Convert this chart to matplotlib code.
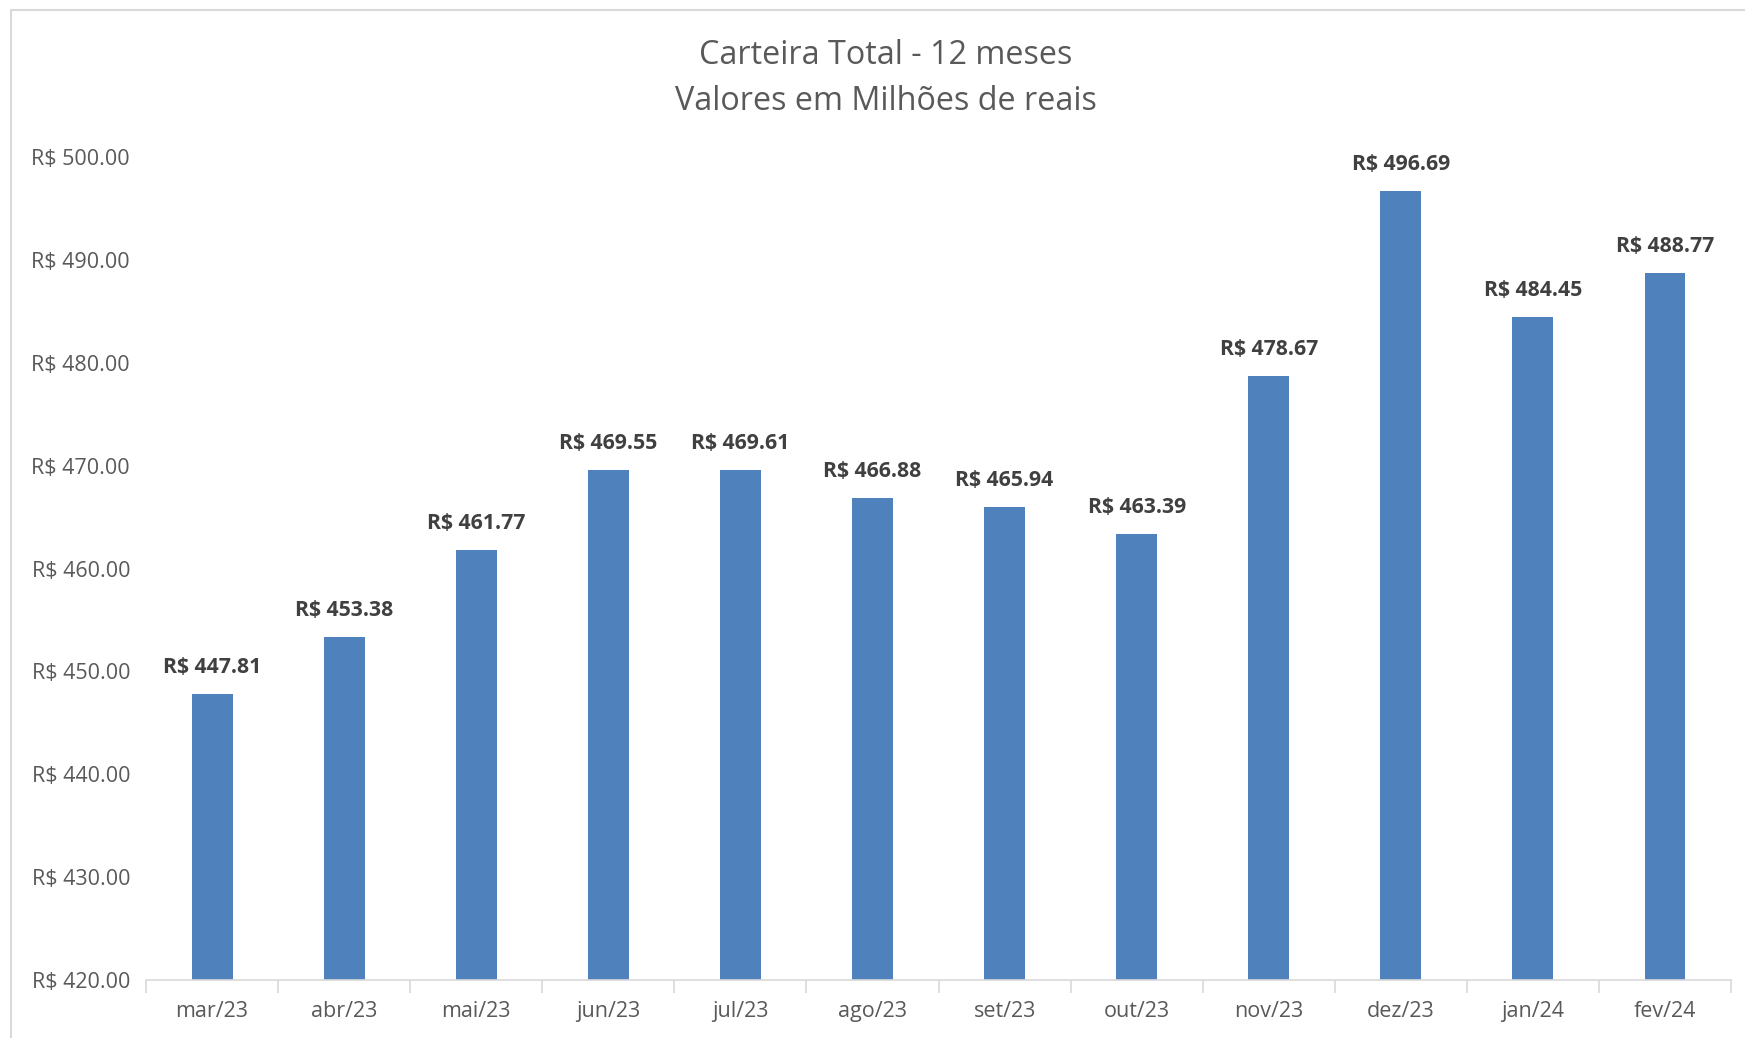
import numpy as np
import matplotlib.pyplot as plt
from matplotlib.patches import Rectangle

meses = ['mar/23', 'abr/23', 'mai/23', 'jun/23', 'jul/23', 'ago/23',
         'set/23', 'out/23', 'nov/23', 'dez/23', 'jan/24', 'fev/24']
valores = [447.81, 453.38, 461.77, 469.55, 469.61, 466.88,
           465.94, 463.39, 478.67, 496.69, 484.45, 488.77]
y_ticks = [420, 430, 440, 450, 460, 470, 480, 490, 500]

plt.rcParams['font.family'] = ['Open Sans', 'DejaVu Sans']

fig = plt.figure(figsize=(17.45, 10.38), dpi=100)
ax = fig.add_axes([0.0837, 0.0559, 0.9083, 0.7928])

x = np.arange(len(meses))
ax.bar(x, valores, width=0.31, color='#4F81BD', zorder=2)

for xi, v in zip(x, valores):
    ax.annotate('R$ %.2f' % v, (xi, v), xytext=(0, 16), textcoords='offset pixels',
                ha='center', va='bottom', fontsize=15.3, fontweight='bold', color='#404040')

ax.set_ylim(420, 500)
ax.set_xlim(-0.5, len(meses) - 0.5)
ax.set_yticks(y_ticks)
ax.set_yticklabels(['R$ %.2f' % t for t in y_ticks], fontsize=15.5, color='#595959')
ax.tick_params(axis='y', length=0, pad=11.5)

ax.set_xticks(x)
ax.set_xticklabels(meses, fontsize=15.5, color='#595959')
ax.set_xticks(np.arange(-0.5, len(meses)), minor=True)
ax.tick_params(axis='x', which='major', length=0, pad=15)
ax.tick_params(axis='x', which='minor', length=9, color='#D9D9D9', width=1.2)

for s in ['top', 'right', 'left']:
    ax.spines[s].set_visible(False)
ax.spines['bottom'].set_color('#D9D9D9')
ax.spines['bottom'].set_linewidth(1.2)

fig.text(0.5075, 0.947, 'Carteira Total - 12 meses', ha='center', va='center',
         fontsize=23.3, color='#595959')
fig.text(0.5075, 0.902, 'Valores em Milhões de reais', ha='center', va='center',
         fontsize=23.3, color='#595959')

fig.patches.append(Rectangle((11 / 1745, -0.05), 1.2, 1 - 10 / 1038 + 0.05,
                             transform=fig.transFigure, fill=False,
                             edgecolor='#D9D9D9', linewidth=1.5))

fig.savefig('out.png', dpi=100)
